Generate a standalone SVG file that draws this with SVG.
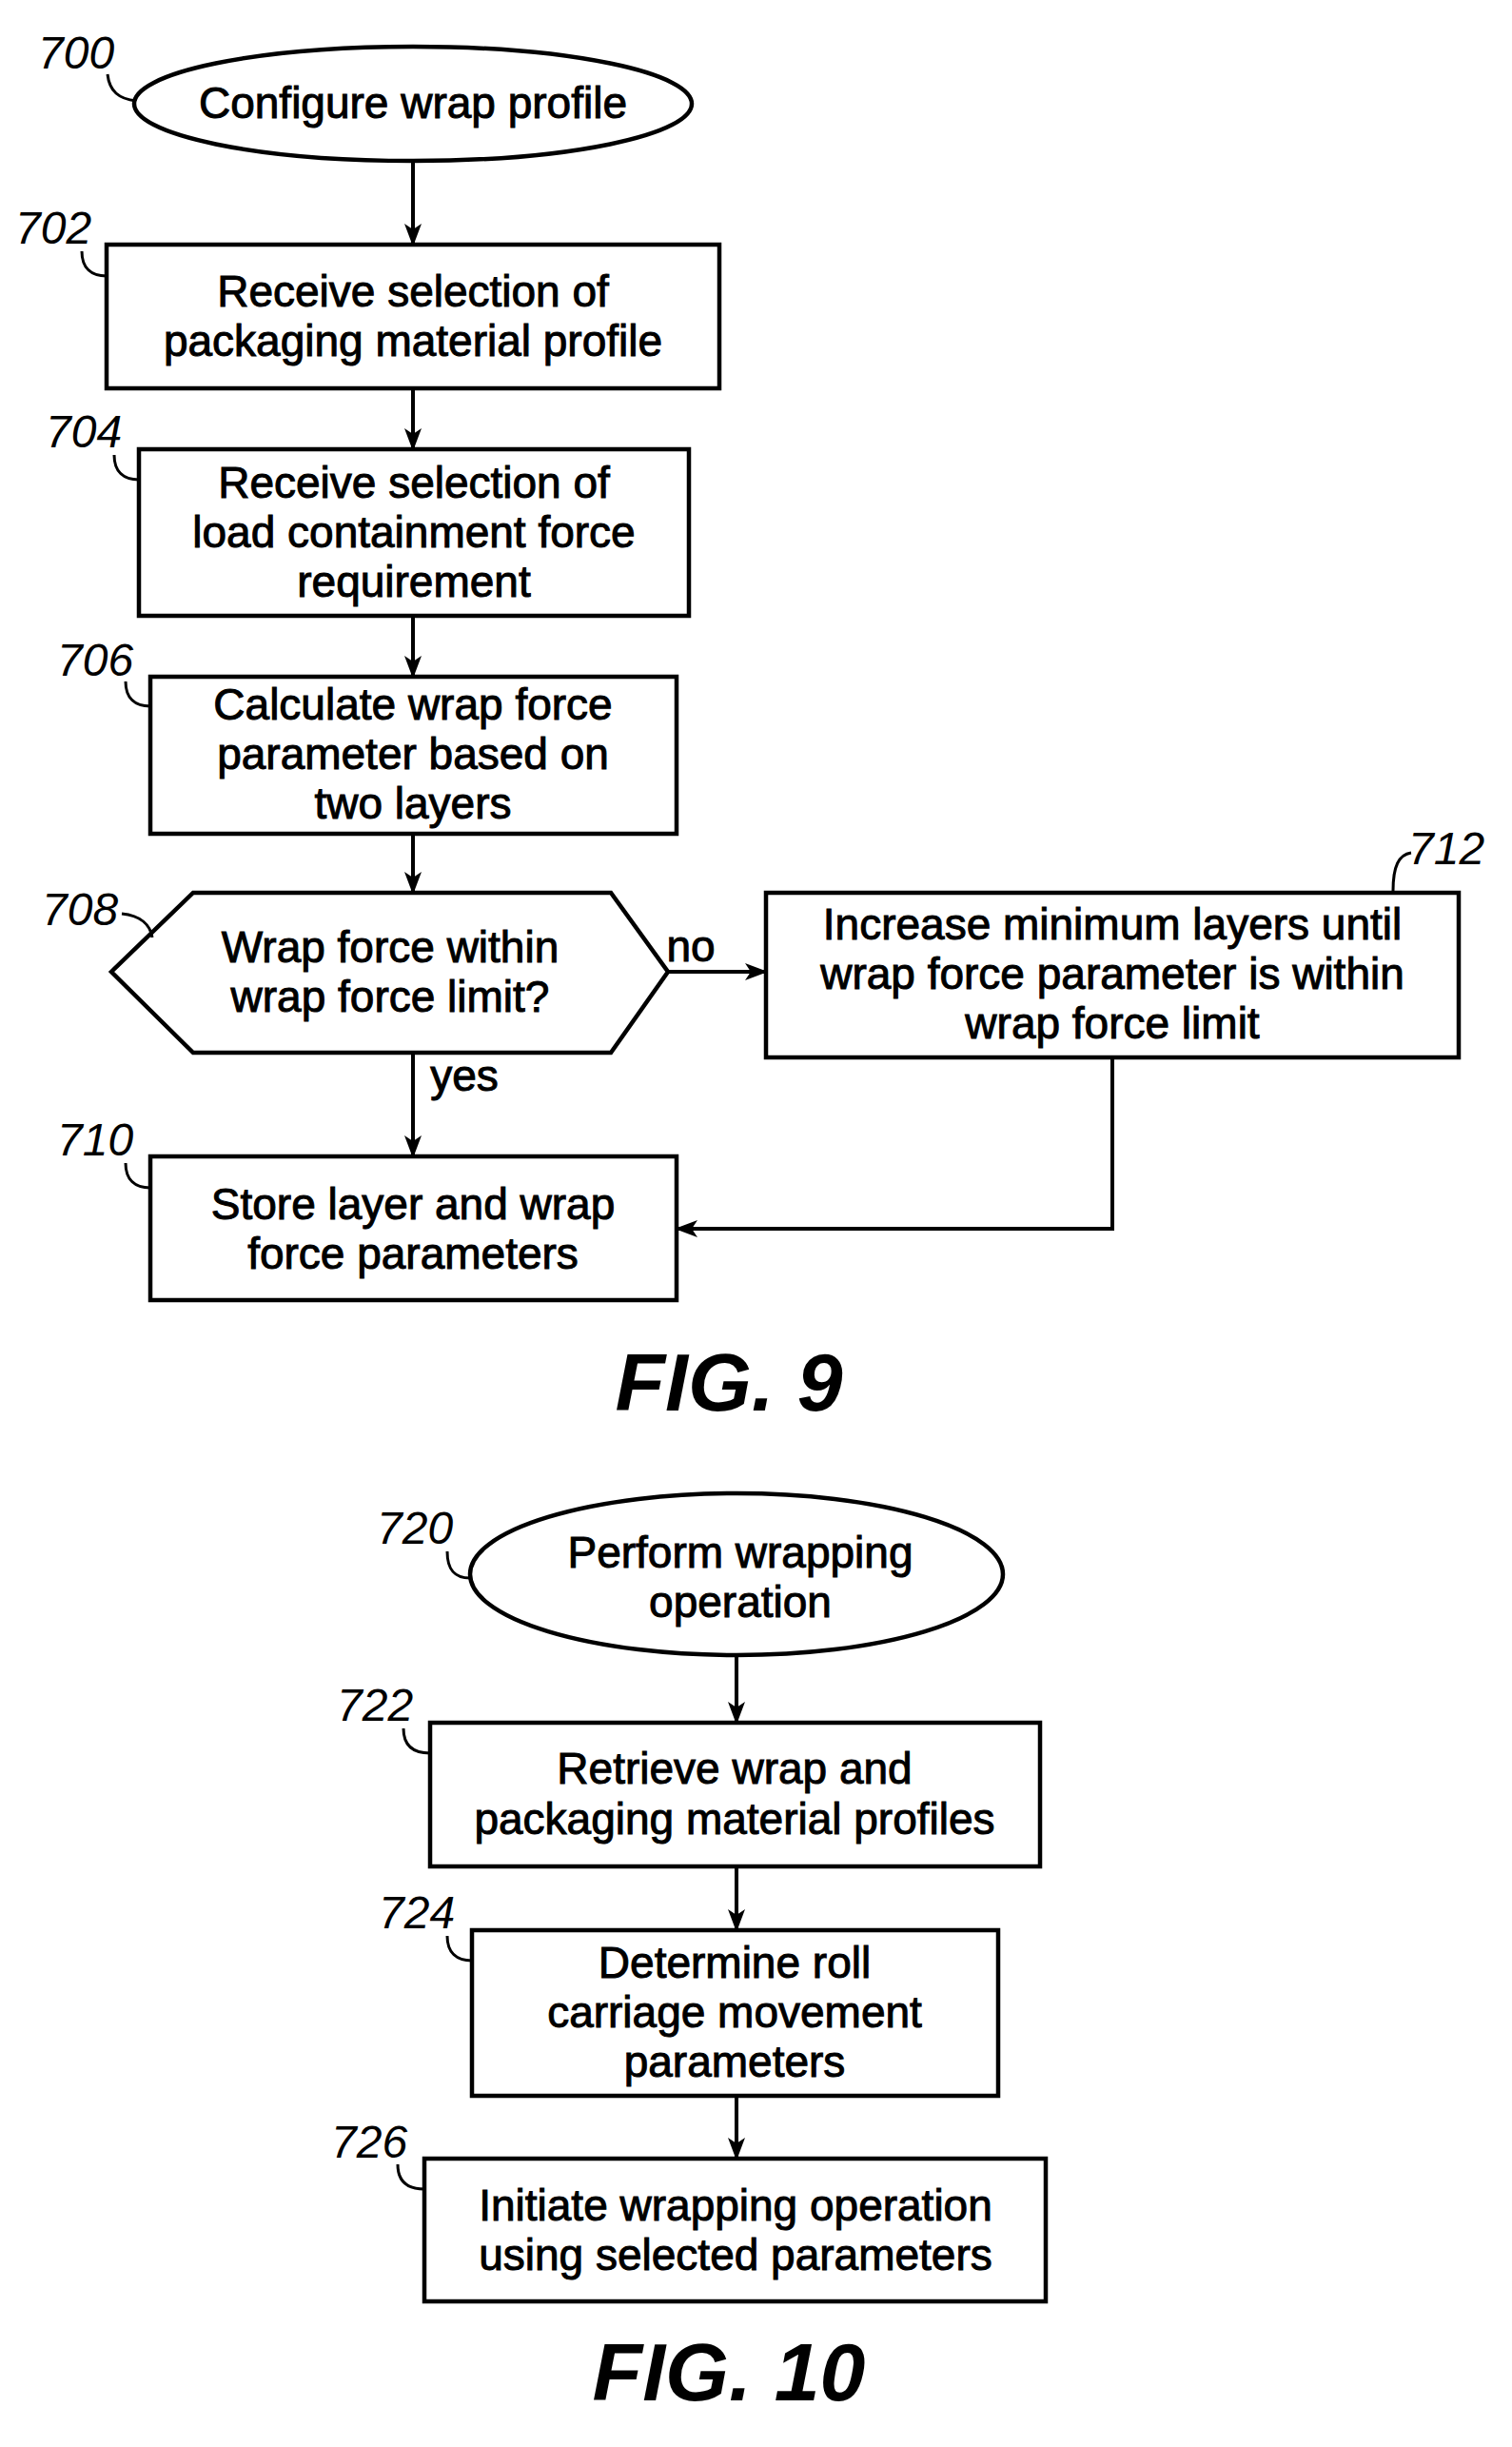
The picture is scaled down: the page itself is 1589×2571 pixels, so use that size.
<svg xmlns="http://www.w3.org/2000/svg" width="1589" height="2571" viewBox="0 0 1589 2571">
<style>
.s{fill:#fff;stroke:#000;stroke-width:4.5}
.t{font-family:"Liberation Sans",Arial,sans-serif;font-size:46px;text-anchor:middle;fill:#000;stroke:#000;stroke-width:1}
.r{font-family:"Liberation Sans",Arial,sans-serif;font-size:48px;font-style:italic;fill:#000}
.l{fill:none;stroke:#000;stroke-width:3}
.c{fill:none;stroke:#000;stroke-width:4}
.f{font-family:"Liberation Sans",Arial,sans-serif;font-size:86px;font-style:italic;font-weight:bold;text-anchor:middle}
</style>
<defs><marker id="a" markerWidth="24" markerHeight="18" refX="22" refY="9" orient="auto" markerUnits="userSpaceOnUse" viewBox="0 0 24 18"><path d="M0,0 L24,9 L0,18 L6,9 Z"/></marker></defs>
<rect width="1589" height="2571" fill="#fff"/>
<g id="connectors">
<path class="c" marker-end="url(#a)" d="M434,169 V257"/>
<path class="c" marker-end="url(#a)" d="M434,408 V472"/>
<path class="c" marker-end="url(#a)" d="M434,647 V711"/>
<path class="c" marker-end="url(#a)" d="M434,876 V938"/>
<path class="c" marker-end="url(#a)" d="M702,1021 H805"/>
<path class="c" marker-end="url(#a)" d="M434,1106 V1215"/>
<path class="c" marker-end="url(#a)" d="M1169,1111 V1291 H711"/>
<path class="c" marker-end="url(#a)" d="M774,1739 V1810"/>
<path class="c" marker-end="url(#a)" d="M774,1961 V2028"/>
<path class="c" marker-end="url(#a)" d="M774,2202 V2268"/>
<text class="t" x="726" y="1010">no</text>
<text class="t" x="488" y="1146">yes</text>
</g>
<g id="n700"><ellipse class="s" cx="434" cy="109" rx="293" ry="60"/><text class="t" x="434" y="124">Configure  wrap profile</text><text class="r" x="40" y="72">700</text><path class="l" d="M113,78 C115,96 125,104 143,106"/></g>
<g id="n702"><rect class="s" x="112" y="257" width="644" height="151"/><text class="t" x="434" y="322">Receive selection of</text><text class="t" x="434" y="374">packaging material profile</text><text class="r" x="16" y="256">702</text><path class="l" d="M86,264 C86,282 96,290 112,290"/></g>
<g id="n704"><rect class="s" x="146" y="472" width="578" height="175"/><text class="t" x="435" y="523">Receive selection of</text><text class="t" x="435" y="575">load containment force</text><text class="t" x="435" y="627">requirement</text><text class="r" x="48" y="470">704</text><path class="l" d="M120,478 C120,496 130,504 146,504"/></g>
<g id="n706"><rect class="s" x="158" y="711" width="553" height="165"/><text class="t" x="434" y="756">Calculate wrap force</text><text class="t" x="434" y="808">parameter based on</text><text class="t" x="434" y="860">two layers</text><text class="r" x="60" y="710">706</text><path class="l" d="M132,716 C132,734 142,742 158,742"/></g>
<g id="n708"><polygon class="s" points="117,1021 203,938 642,938 702,1021 642,1106 203,1106"/><text class="t" x="410" y="1011">Wrap force within</text><text class="t" x="410" y="1063">wrap force limit?</text><text class="r" x="44" y="972">708</text><path class="l" d="M128,960 C148,962 158,972 160,985"/></g>
<g id="n712"><rect class="s" x="805" y="938" width="728" height="173"/><text class="t" x="1169" y="987">Increase minimum layers until</text><text class="t" x="1169" y="1039">wrap force parameter is within</text><text class="t" x="1169" y="1091">wrap force limit</text><text class="r" x="1480" y="908">712</text><path class="l" d="M1483,896 C1470,898 1464,910 1464,936"/></g>
<g id="n710"><rect class="s" x="158" y="1215" width="553" height="151"/><text class="t" x="434" y="1281">Store layer and wrap</text><text class="t" x="434" y="1333">force parameters</text><text class="r" x="60" y="1214">710</text><path class="l" d="M132,1222 C132,1240 142,1248 158,1248"/></g>
<text class="f" x="766" y="1482">FIG. 9</text>
<g id="n720"><ellipse class="s" cx="774" cy="1654" rx="280" ry="85"/><text class="t" x="778" y="1647">Perform  wrapping</text><text class="t" x="778" y="1699">operation</text><text class="r" x="396" y="1622">720</text><path class="l" d="M470,1630 C470,1650 478,1658 494,1658"/></g>
<g id="n722"><rect class="s" x="452" y="1810" width="641" height="151"/><text class="t" x="772" y="1874">Retrieve wrap and</text><text class="t" x="772" y="1927">packaging material profiles</text><text class="r" x="354" y="1808">722</text><path class="l" d="M424,1816 C424,1834 434,1842 452,1842"/></g>
<g id="n724"><rect class="s" x="496" y="2028" width="553" height="174"/><text class="t" x="772" y="2078">Determine roll</text><text class="t" x="772" y="2130">carriage movement</text><text class="t" x="772" y="2182">parameters</text><text class="r" x="398" y="2026">724</text><path class="l" d="M470,2034 C470,2052 480,2060 496,2060"/></g>
<g id="n726"><rect class="s" x="446" y="2268" width="653" height="150"/><text class="t" x="773" y="2333">Initiate wrapping operation</text><text class="t" x="773" y="2385">using selected parameters</text><text class="r" x="348" y="2267">726</text><path class="l" d="M418,2274 C418,2292 428,2300 446,2300"/></g>
<text class="f" x="766" y="2522">FIG. 10</text>
</svg>
